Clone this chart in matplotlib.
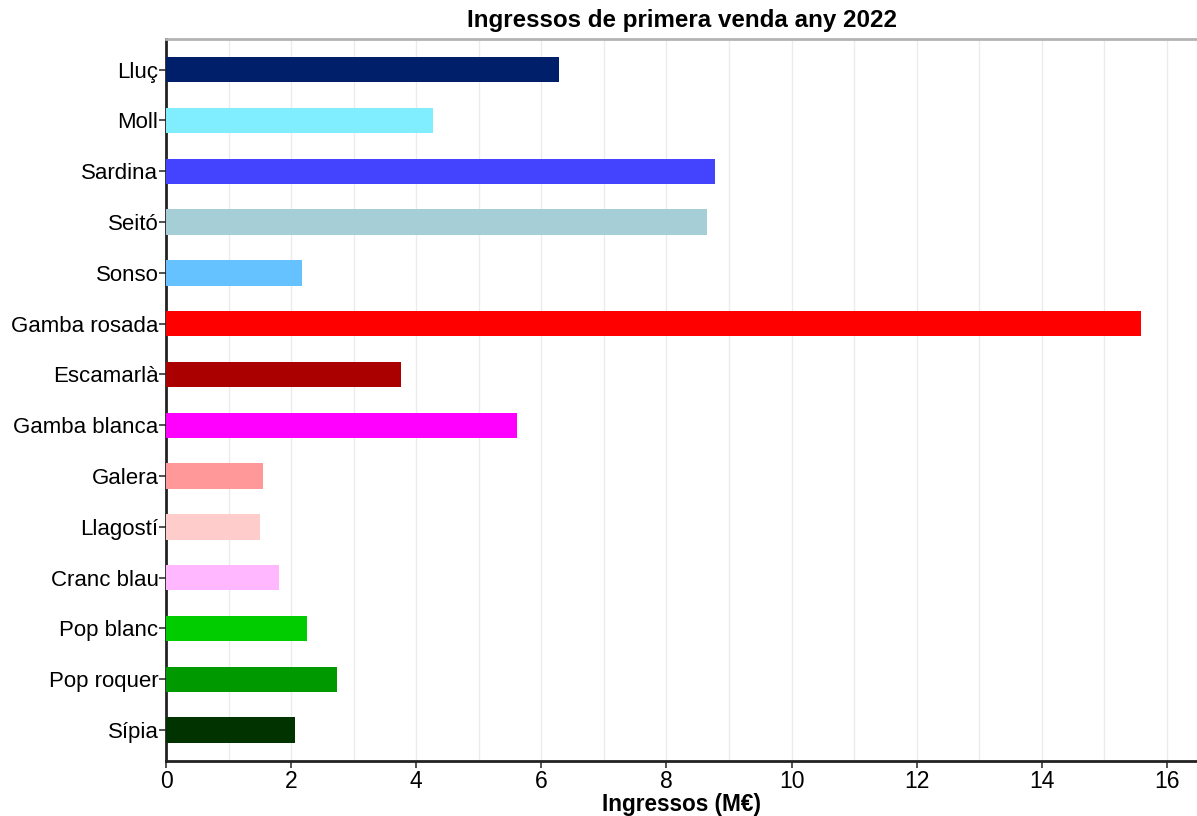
import matplotlib
matplotlib.use('Agg')
import matplotlib.pyplot as plt
from matplotlib.ticker import MultipleLocator

plt.rcParams['font.family'] = ['Liberation Sans', 'DejaVu Sans']

# species, top to bottom
species = ['Lluç', 'Moll', 'Sardina', 'Seitó', 'Sonso', 'Gamba rosada', 'Escamarlà',
           'Gamba blanca', 'Galera', 'Llagostí', 'Cranc blau', 'Pop blanc',
           'Pop roquer', 'Sípia']
ingressos = [6.28, 4.27, 8.78, 8.65, 2.17, 15.58, 3.76, 5.61, 1.55, 1.50, 1.81,
             2.25, 2.73, 2.06]
colors = ['#001F6B', '#80EEFF', '#4444FF', '#A6CED6', '#66C2FF', '#FF0000', '#AA0000',
          '#FF00FF', '#FF9999', '#FFCCCC', '#FFB8FF', '#00CC00', '#009900', '#003300']

fig = plt.figure(figsize=(11.97, 8.16), dpi=100)
ax = fig.add_axes([0.1387, 0.068, 0.8613, 0.884])

n = len(species)
ypos = [n - 1 - i for i in range(n)]
ax.barh(ypos, ingressos, height=0.5, color=colors, zorder=3)

ax.set_yticks(ypos)
ax.set_yticklabels(species, fontsize=16)
ax.set_ylim(-0.6, n - 0.4)
ax.set_xlim(0, 16.48)
ax.xaxis.set_major_locator(MultipleLocator(2))
ax.xaxis.set_minor_locator(MultipleLocator(1))
ax.tick_params(axis='x', labelsize=16.5, length=5, width=1.2, color='#333333', pad=2)
ax.tick_params(axis='y', length=5, width=1.2, color='#333333', pad=0.5)
ax.tick_params(axis='x', which='minor', length=0)

ax.grid(axis='x', which='both', color='#EBEBEB', linewidth=1.0, zorder=0)
ax.grid(axis='y', visible=False)

for side in ['left', 'bottom']:
    ax.spines[side].set_color('#222222')
    ax.spines[side].set_linewidth(2)
ax.spines['top'].set_color('#B3B3B3')
ax.spines['top'].set_linewidth(2)
ax.spines['right'].set_visible(False)

ax.set_title('Ingressos de primera venda any 2022', fontsize=17.4, fontweight='bold', pad=9)
ax.set_xlabel('Ingressos (M€)', fontsize=16.3, fontweight='bold', labelpad=0)

fig.savefig('out.png', dpi=100)
